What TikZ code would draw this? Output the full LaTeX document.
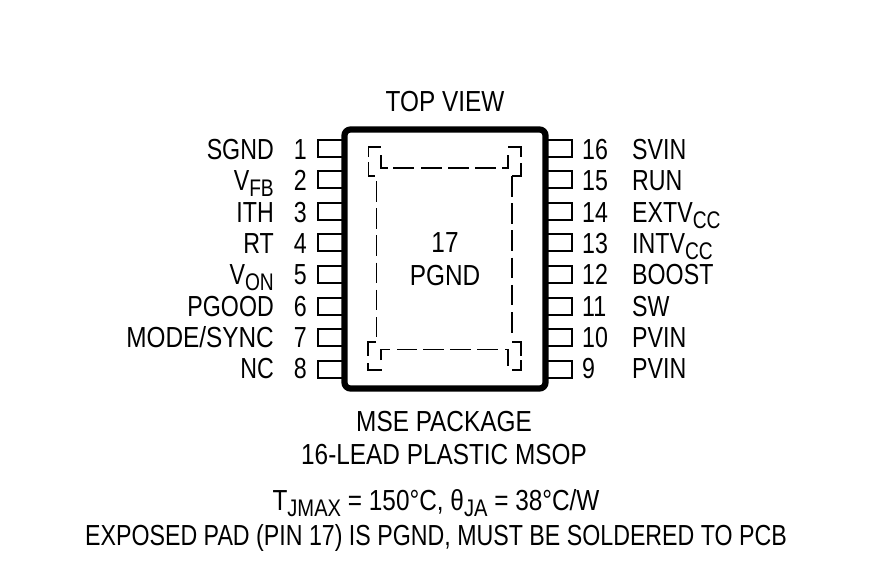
\documentclass[tikz,border=0pt]{standalone}
\usepackage{fontspec}
\setmainfont{Liberation Sans}[FakeStretch=0.8]
\newfontfamily\widefont{Liberation Sans}[FakeStretch=0.84]
\usetikzlibrary{positioning}

\newcommand{\lsub}[1]{\raisebox{-6pt}[0pt][0pt]{\fontsize{24}{24}\selectfont #1}}

\tikzset{
  lbl/.style={inner sep=0pt,font=\fontsize{29}{29}\selectfont},
  widelbl/.style={inner sep=0pt,font=\widefont\fontsize{29}{29}\selectfont},
  pinbox/.style={draw,line width=2pt,minimum width=26pt,minimum height=17pt,inner sep=0pt},
  pkgbox/.style={draw,line width=6.2pt,rounded corners=6pt,minimum width=201pt,minimum height=259pt,inner sep=0pt},
  pad/.style={line width=1.9pt},
  padv/.style={line width=1.9pt,dash pattern=on 20.5pt off 6.7pt}
}

\begin{document}
\begin{tikzpicture}[x=1pt,y=-1pt]
  \useasboundingbox (0,0) rectangle (870,582);

  % pins, left side
  \foreach \n/\name in {1/SGND,2/V\lsub{FB},3/ITH,4/RT,5/V\lsub{ON},6/PGOOD,7/{\widefont MODE/SYNC},8/NC}{
    \pgfmathsetmacro\py{148+31.6*(\n-1)}
    \pgfmathsetmacro\by{159.5+31.3*(\n-1)}
    \node[pinbox] (pl\n) at (331,\py) {};
    \node[lbl,anchor=base east] (nl\n) at (307,\by) {\n};
    \node[lbl,anchor=base east] (tl\n) at (274,\by) {\name};
  }
  % pins, right side
  \foreach \n/\name in {16/SVIN,15/RUN,14/EXTV\lsub{CC},13/INTV\lsub{CC},12/BOOST,11/SW,10/PVIN,9/PVIN}{
    \pgfmathsetmacro\py{148+31.6*(16-\n)}
    \pgfmathsetmacro\by{159.5+31.3*(16-\n)}
    \node[pinbox] (pr\n) at (559,\py) {};
    \node[lbl,anchor=base west] (nr\n) at (582,\by) {\n};
    \node[lbl,anchor=base west] (tr\n) at (632,\by) {\name};
  }

  \node[pkgbox] (pkg) at (445,259) {};

  % exposed pad outline
  \draw[pad] (368.5,157) -- (368.5,147) -- (381,147);
  \draw[pad] (368.5,162) -- (368.5,176) -- (375,176);
  \draw[pad] (380.7,155) -- (380.7,168) -- (387.7,168);
  \draw[pad] (393,168) -- (414,168) (421,168) -- (442,168) (448,168) -- (469,168) (475,168) -- (496,168);
  \draw[pad] (502,168) -- (507.7,168) -- (507.7,155);
  \draw[pad] (508,147) -- (521,147) -- (521,157);
  \draw[pad] (521,163) -- (521,176) -- (512,176);
  \draw[padv] (376.5,181) -- (376.5,337);
  \draw[padv] (512,176) -- (512,333);
  \draw[pad] (376,342) -- (368,342) -- (368,356);
  \draw[pad] (368,363) -- (368,370) -- (382,370);
  \draw[pad] (380.7,360) -- (380.7,349.5) -- (390,349.5);
  \draw[pad] (397,349.5) -- (417,349.5) (423,349.5) -- (444,349.5) (450,349.5) -- (471,349.5) (477,349.5) -- (498,349.5);
  \draw[pad] (505,349.5) -- (508,349.5) -- (508,366);
  \draw[pad] (512,342) -- (520.7,342) -- (520.7,356);
  \draw[pad] (520.7,360) -- (520.7,370) -- (512,370);

  \node[widelbl,anchor=base] (topview) at (445,111) {TOP VIEW};
  \node[widelbl,anchor=base] (padnum) at (445,252) {17};
  \node[widelbl,anchor=base] (padname) at (445,285) {PGND};
  \node[widelbl,anchor=base] (pkgname) at (444,431) {MSE PACKAGE};
  \node[widelbl,anchor=base] (pkgtype) at (444,464) {16-LEAD PLASTIC MSOP};
  \node[widelbl,anchor=base] (thermal) at (436,510) {T\lsub{JMAX} = 150°C, θ\lsub{JA} = 38°C/W};
  \node[lbl,anchor=base] (note) at (436,545) {EXPOSED PAD (PIN 17) IS PGND, MUST BE SOLDERED TO PCB};
\end{tikzpicture}
\end{document}
